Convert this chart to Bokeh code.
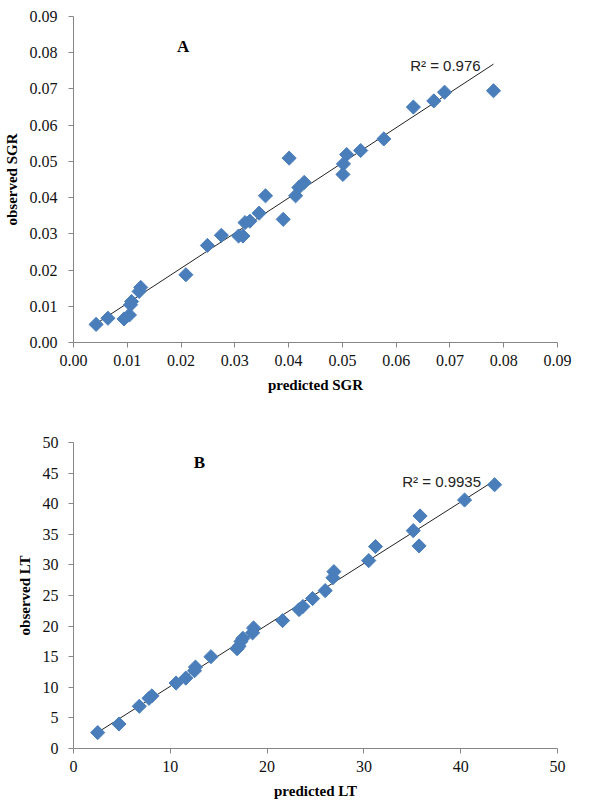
import numpy as np
from bokeh.plotting import figure
from bokeh.layouts import column
from bokeh.models import FixedTicker, PrintfTickFormatter, Range1d, Label
from bokeh.embed import file_html
from bokeh.resources import INLINE

# ---------------- data ----------------
a_pred = [0.0042, 0.0064, 0.0094, 0.0104, 0.0106, 0.0108, 0.0122, 0.0125, 0.0209, 0.0249,
          0.0275, 0.0307, 0.0315, 0.0319, 0.0328, 0.0345, 0.0357, 0.0390, 0.0401, 0.0413,
          0.0419, 0.0429, 0.0501, 0.0502, 0.0508, 0.0534, 0.0577, 0.0632, 0.0670, 0.0690,
          0.0781]
a_obs = [0.0050, 0.0067, 0.0065, 0.0076, 0.0104, 0.0113, 0.0141, 0.0152, 0.0187, 0.0268,
         0.0296, 0.0294, 0.0294, 0.0331, 0.0335, 0.0357, 0.0405, 0.0340, 0.0509, 0.0405,
         0.0428, 0.0442, 0.0464, 0.0493, 0.0519, 0.0530, 0.0562, 0.0650, 0.0667, 0.0691,
         0.0695]
b_pred = [2.5, 4.7, 6.8, 7.8, 8.1, 10.6, 11.6, 12.5, 12.6, 14.2,
          16.9, 17.1, 17.3, 17.5, 18.5, 18.6, 21.6, 23.3, 23.7, 24.7,
          26.0, 26.8, 26.9, 30.5, 31.2, 35.1, 35.8, 35.7, 40.4, 43.5]
b_obs = [2.6, 4.0, 6.9, 8.2, 8.6, 10.7, 11.5, 12.7, 13.3, 15.0,
         16.3, 16.7, 17.5, 18.0, 18.9, 19.7, 20.9, 22.7, 23.2, 24.5,
         25.8, 27.9, 28.9, 30.7, 33.0, 35.6, 38.0, 33.1, 40.6, 43.1]

a_ticks = [0.00, 0.01, 0.02, 0.03, 0.04, 0.05, 0.06, 0.07, 0.08, 0.09]
b_yticks = [0, 5, 10, 15, 20, 25, 30, 35, 40, 45, 50]
b_xticks = [0, 10, 20, 30, 40, 50]

a_xlabel, a_ylabel, a_tag, a_r2 = "predicted SGR", "observed SGR", "A", "R\u00b2 = 0.976"
b_xlabel, b_ylabel, b_tag, b_r2 = "predicted LT", "observed LT", "B", "R\u00b2 = 0.9935"

MARK = "#4A7EBB"
AXIS = "#868686"
SERIF = "Liberation Serif"


def style(p, xlabel, ylabel, ystand, ylabstand):
    p.grid.visible = False
    p.outline_line_color = None
    p.toolbar.logo = None
    for ax in (p.xaxis[0], p.yaxis[0]):
        ax.axis_line_color = AXIS
        ax.major_tick_line_color = AXIS
        ax.major_tick_in = 0
        ax.major_tick_out = 5
        ax.minor_tick_line_color = None
        ax.major_label_text_font = SERIF
        ax.major_label_text_font_size = "16px"
        ax.major_label_text_color = "#111111"
        ax.axis_label_text_font = SERIF
        ax.axis_label_text_font_style = "bold"
        ax.axis_label_text_font_size = "15px"
        ax.axis_label_text_color = "#000000"
    p.xaxis.axis_label = xlabel
    p.yaxis.axis_label = ylabel
    p.xaxis.major_label_standoff = 7
    p.xaxis.axis_label_standoff = 8
    p.yaxis.major_label_standoff = ystand
    p.yaxis.axis_label_standoff = ylabstand


def panel(xs, ys, xr, yr, xt, yt, fmt, xlabel, ylabel, tag, tagpos, r2, r2pos,
          width, height, bl, br, bt, bb, ystand, ylabstand):
    p = figure(width=width, height=height, output_backend="svg", toolbar_location=None,
               x_range=Range1d(*xr), y_range=Range1d(*yr),
               min_border_left=bl, min_border_right=br, min_border_top=bt, min_border_bottom=bb,
               background_fill_color="white", border_fill_color="white")
    style(p, xlabel, ylabel, ystand, ylabstand)
    p.xaxis.ticker = FixedTicker(ticks=xt)
    p.yaxis.ticker = FixedTicker(ticks=yt)
    p.xaxis.formatter = PrintfTickFormatter(format=fmt)
    p.yaxis.formatter = PrintfTickFormatter(format=fmt)

    # linear trendline from the data
    slope, icpt = np.polyfit(np.array(xs), np.array(ys), 1)
    lx = np.array([min(xs), max(xs)])
    p.line(lx, icpt + slope * lx, line_color="#222222", line_width=1)

    p.scatter(xs, ys, marker="square", angle=np.pi / 4, size=10,
              fill_color=MARK, line_color=MARK, line_width=1)

    p.add_layout(Label(x=tagpos[0], y=tagpos[1], text=tag, text_font=SERIF,
                       text_font_style="bold", text_font_size="17px",
                       text_align="center", text_baseline="middle", text_color="#000000"))
    p.add_layout(Label(x=r2pos[0], y=r2pos[1], text=r2, text_font="Liberation Sans",
                       text_font_size="15px", text_align="right",
                       text_baseline="middle", text_color="#222222"))
    return p


pa = panel(a_pred, a_obs, (0, 0.09), (0, 0.09), a_ticks, a_ticks, "%.2f",
           a_xlabel, a_ylabel, a_tag, (0.0204, 0.0817), a_r2, (0.0757, 0.0764),
           width=603, height=400, bl=69, br=13, bt=16, bb=58, ystand=11, ylabstand=7)
pb = panel(b_pred, b_obs, (0, 50), (0, 50), b_xticks, b_yticks, "%d",
           b_xlabel, b_ylabel, b_tag, (13.0, 46.8), b_r2, (42.1, 43.6),
           width=603, height=407, bl=57, br=46, bt=42, bb=59, ystand=10, ylabstand=7)

layout = column(pa, pb, spacing=0)
open("out.html", "w").write(file_html(layout, INLINE))
